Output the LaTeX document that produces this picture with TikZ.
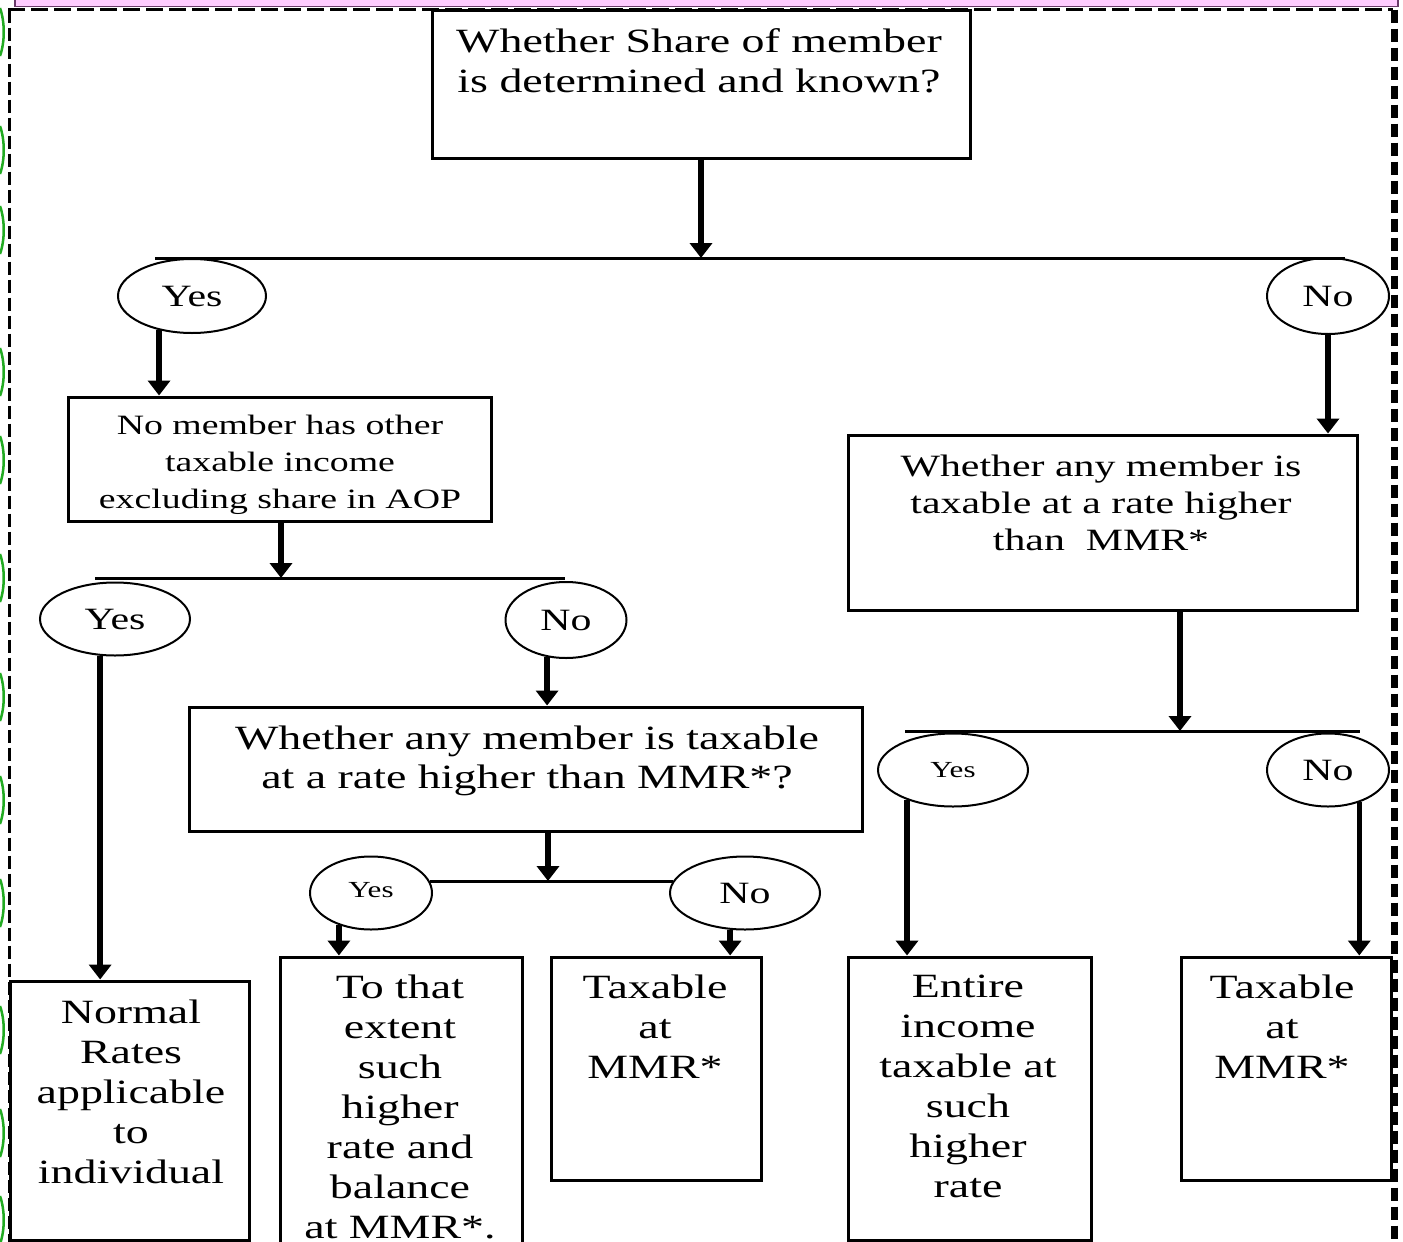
\documentclass[tikz,border=0pt]{standalone}
\usepackage{fontspec}
\setmainfont{Liberation Serif}[FakeStretch=1.35]
\usetikzlibrary{shapes.geometric,arrows.meta,calc}
\definecolor{pinkband}{HTML}{FFCCFF}
\definecolor{pinkedge}{HTML}{6A3A6A}
\definecolor{edgegreen}{HTML}{22AA22}
\newcommand\fsz[2]{\fontsize{#1}{#2}\selectfont}
\tikzset{
  box/.style={draw, rectangle, line width=3pt, inner sep=0pt},
  oval/.style={draw, ellipse, line width=2pt, inner sep=0pt, font=\fsz{31}{37}},
  smalloval/.style={oval, font=\fsz{23}{28}},
  txt/.style={align=center, inner sep=0pt, anchor=north},
  arr/.style={line width=5.5pt, -{Triangle[width=22pt,length=15pt]}},
  hline/.style={line width=3pt},
  greenarc/.style={draw=edgegreen, line width=2.5pt},
}
\begin{document}
\begin{tikzpicture}[x=1pt,y=-1pt]
\useasboundingbox (0,0) rectangle (1403,1242);
% frame decorations
\fill[pinkband] (15,-5) rectangle (1398,6.5);
\draw[pinkedge, line width=1.2pt] (15,-5) -- (15,6.5) -- (1398,6.5) -- (1398,-5);
\draw[line width=3pt, dash pattern=on 17pt off 6pt] (8,9.7) -- (1393,9.7);
\draw[line width=3pt, dash pattern=on 13pt off 5pt] (9.3,9.7) -- (9.3,1242);
\draw[line width=7pt, dash pattern=on 13pt off 6pt] (1394,9.7) -- (1394,1242);
\foreach \yy in {32,150,230,372,460,578,697,800,903,1030,1133,1220}
  \draw[greenarc] (0,\yy-24) .. controls (5,\yy-10) and (5,\yy+10) .. (0,\yy+24);

% boxes
\node[box, minimum width=538pt, minimum height=148pt] (top) at (701,84) {};
\node[box, minimum width=423pt, minimum height=124pt] (box2) at (279.5,459) {};
\node[box, minimum width=673pt, minimum height=124pt] (box3) at (525.5,769) {};
\node[box, minimum width=509pt, minimum height=175pt] (boxR) at (1102.5,522.5) {};
\node[box, minimum width=239pt, minimum height=259pt] (normal) at (129.5,1110.5) {};
\node[box, minimum width=242pt, minimum height=303pt] (tothat) at (401,1108.5) {};
\node[box, minimum width=210pt, minimum height=223pt] (tax1) at (656,1068.5) {};
\node[box, minimum width=243pt, minimum height=283pt] (entire) at (969.5,1098.5) {};
\node[box, minimum width=210pt, minimum height=223pt] (tax2) at (1286,1068.5) {};

% box texts
\node[txt, font=\fsz{34}{40}] (t0) at (699,28) {Whether Share of member\\is determined and known?};
\node[txt, font=\fsz{28}{37}] (t2) at (280,415) {No member has other\\taxable income\\excluding share in AOP};
\node[txt, font=\fsz{34}{39}] (t3) at (527,726) {Whether any member is taxable\\at a rate higher than MMR*?};
\node[txt, font=\fsz{31}{37}] (tR) at (1101,455) {Whether any member is\\taxable at a rate higher\\than\ \ MMR*};
\node[txt, font=\fsz{34}{40}] (tn) at (131,1000) {Normal\\Rates\\applicable\\to\\individual};
\node[txt, font=\fsz{34}{40}] (tt) at (400,975) {To that\\extent\\such\\higher\\rate and\\balance\\at MMR*.};
\node[txt, font=\fsz{34}{40}] (tx1) at (655,975) {Taxable\\at\\MMR*};
\node[txt, font=\fsz{34}{40}] (te) at (968,975) {Entire\\income\\taxable at\\such\\higher\\rate};
\node[txt, font=\fsz{34}{40}] (tx2) at (1282,975) {Taxable\\at\\MMR*};

% ellipses
\node[oval, minimum width=148pt, minimum height=74pt] (yes1) at (192,296) {Yes};
\node[oval, minimum width=122pt, minimum height=76pt] (no1) at (1328,296) {No};
\node[oval, minimum width=150pt, minimum height=73pt] (yes2) at (115,619) {Yes};
\node[oval, minimum width=121pt, minimum height=76pt] (no2) at (566,620) {No};
\node[smalloval, minimum width=122pt, minimum height=73pt] (yes3) at (371,893) {\raisebox{6pt}{Yes}};
\node[oval, minimum width=150pt, minimum height=73pt] (no3) at (745,893) {No};
\node[smalloval, minimum width=150pt, minimum height=73pt] (yes4) at (953,770) {Yes};
\node[oval, minimum width=122pt, minimum height=73pt] (no4) at (1328,770) {No};

% junction coordinates
\coordinate (h1L) at (155,258);
\coordinate (h1R) at (1345,258);
\coordinate (j1) at (701,258);
\coordinate (h2L) at (95,578);
\coordinate (h2R) at (565,578);
\coordinate (j2) at (281,578);
\coordinate (j3) at (548,881);
\coordinate (h4L) at (905,731);
\coordinate (h4R) at (1360,731);
\coordinate (j4) at (1180,731);

% horizontal lines
\draw[hline] (h1L) -- (h1R);
\draw[hline] (h2L) -- (h2R);
\draw[hline] (yes3.11.8) -- (yes3.11.8 -| no3.170.4);
\draw[hline] (h4L) -- (h4R);

% arrows
\draw[arr] (top.south -| j1) -- (j1);
\draw[arr] (yes1.226.2) -- (yes1.226.2 |- box2.north);
\draw[arr] (no1.south) -- (no1.south |- boxR.north);
\draw[arr] (box2.south -| j2) -- (j2);
\draw[arr] (yes2.248.7) -- (yes2.248.7 |- normal.north);
\draw[arr] (no2.243.6) -- (no2.243.6 |- box3.north);
\draw[arr] (box3.south -| j3) -- (j3);
\draw[arr] (yes3.225.4) -- (yes3.225.4 |- tothat.north);
\draw[arr] (no3.248.7) -- (no3.248.7 |- tax1.north);
\draw[arr] (boxR.south -| j4) -- (j4);
\draw[arr] (yes4.213) -- (yes4.213 |- entire.north);
\draw[arr] (no4.-46.7) -- (no4.-46.7 |- tax2.north);
\end{tikzpicture}
\end{document}
